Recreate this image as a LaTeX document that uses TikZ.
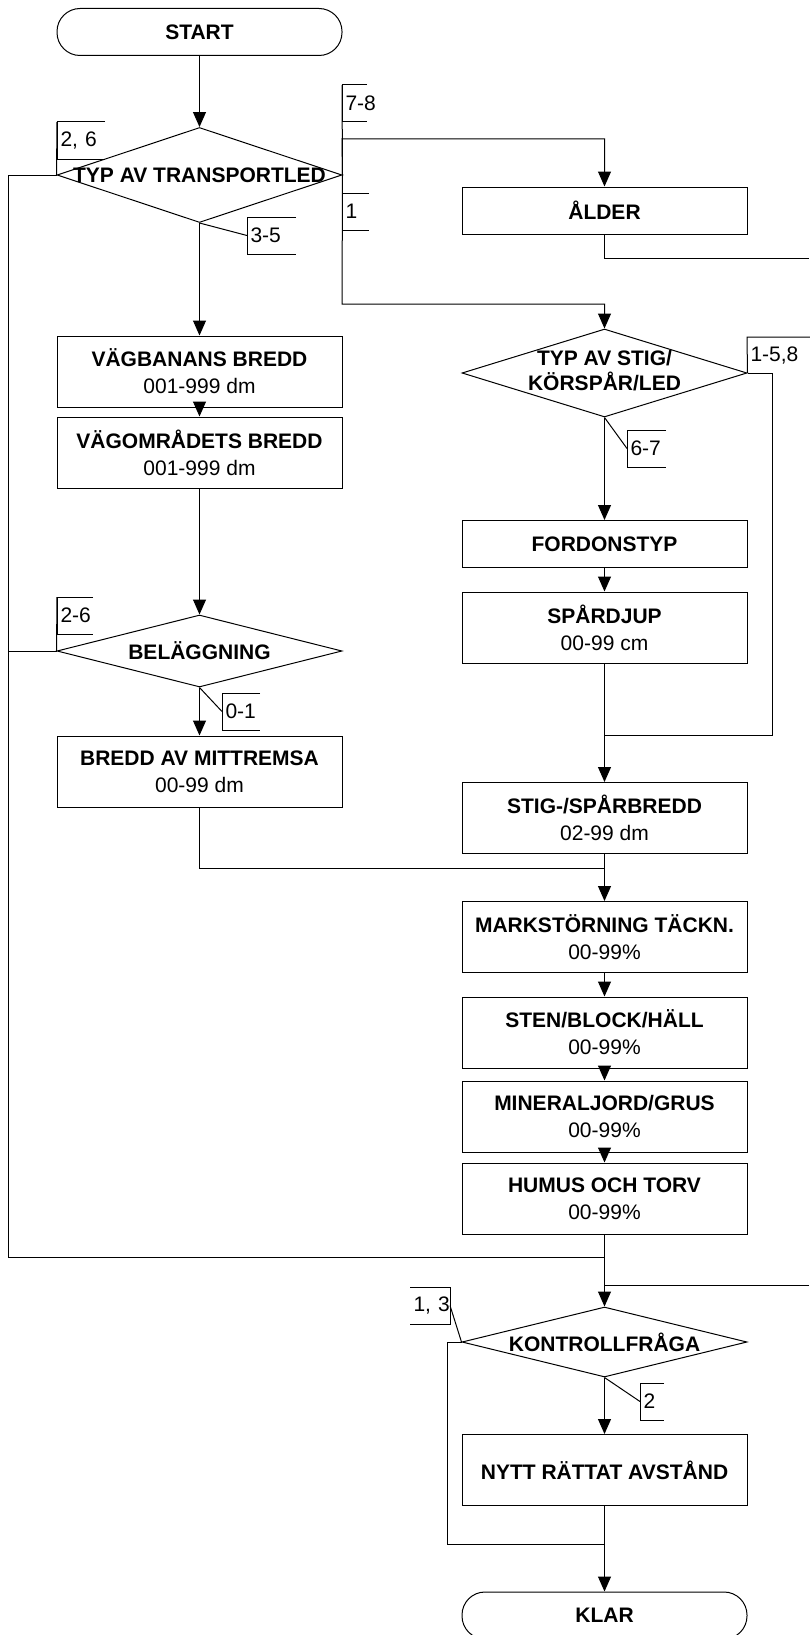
\documentclass[tikz,border=0pt]{standalone}
\usepackage{fontspec}
\setmainfont{Liberation Sans}
\usetikzlibrary{shapes.geometric,arrows.meta,positioning}

% text that takes no width inside a diamond
\newcommand{\nollbred}[1]{\makebox[0pt]{#1}}

\begin{document}
\begin{tikzpicture}[x=1pt, y=-1pt, line width=1pt, >={Triangle[length=15pt,width=13pt]},
    font=\fontsize{21}{27}\selectfont,
    box/.style={draw, rectangle, minimum width=285pt, minimum height=#1, inner sep=0pt, align=center},
    box/.default=71pt,
    beslut/.style={draw, diamond, minimum width=285pt, minimum height=#1, inner sep=0pt},
    term/.style={draw, rectangle, rounded corners=23pt, minimum width=285pt, minimum height=47pt},
    lbl/.style={text width=#1, align=left, inner xsep=3pt, inner ysep=0pt, minimum height=36pt, anchor=north west}]
    \useasboundingbox (0,0) rectangle (809,1635);

    % left column
    \node (start) [term] at (199.5,32) {\textbf{START}};
    \node (typled) [beslut=95pt] at (199.5,175) {\nollbred{\textbf{TYP AV TRANSPORTLED}}};
    \node (vbredd) [box] at (199.5,371.5) {\textbf{VÄGBANANS BREDD}\\001-999 dm};
    \node (vomr) [box] at (199.5,452.5) {\textbf{VÄGOMRÅDETS BREDD}\\001-999 dm};
    \node (belagg) [beslut=72pt] at (199.5,651) {\nollbred{\textbf{BELÄGGNING}}};
    \node (mittremsa) [box] at (199.5,771.5) {\textbf{BREDD AV MITTREMSA}\\00-99 dm};

    % right column
    \node (alder) [box=47pt] at (604.5,210.5) {\textbf{ÅLDER}};
    \node (typstig) [beslut=88pt] at (604.5,373) {\nollbred{\textbf{\begin{tabular}{@{}c@{}}TYP AV STIG/\\[-2pt]KÖRSPÅR/LED\end{tabular}}}};
    \node (fordon) [box=47pt] at (604.5,544) {\textbf{FORDONSTYP}};
    \node (spardjup) [box] at (604.5,627.5) {\textbf{SPÅRDJUP}\\00-99 cm};
    \node (stigbredd) [box] at (604.5,818) {\textbf{STIG-/SPÅRBREDD}\\02-99 dm};
    \node (mark) [box] at (604.5,937) {\textbf{MARKSTÖRNING TÄCKN.}\\00-99\%};
    \node (sten) [box] at (604.5,1032.5) {\textbf{STEN/BLOCK/HÄLL}\\00-99\%};
    \node (mineral) [box] at (604.5,1116.5) {\textbf{MINERALJORD/GRUS}\\00-99\%};
    \node (humus) [box] at (604.5,1198.5) {\textbf{HUMUS OCH TORV}\\00-99\%};
    \node (kontroll) [beslut=70pt] at (604.5,1342) {\nollbred{\textbf{KONTROLLFRÅGA}}};
    \node (nytt) [box] at (604.5,1470) {\textbf{NYTT RÄTTAT AVSTÅND}};
    \node (klar) [term] at (604.5,1615.5) {\textbf{KLAR}};

    % answer codes
    \node (k26) [lbl=41pt] at (57,122) {\mbox{2, 6}};
    \node (k78) [lbl=18pt] at (342,85) {\mbox{7-8}};
    \node (k1) [lbl=20pt] at (342,193) {\mbox{1}};
    \node (k35) [lbl=42pt] at (247,217) {\mbox{3-5}};
    \node (k26b) [lbl=29pt] at (57,597) {\mbox{2-6}};
    \node (k01) [lbl=31pt] at (222,693) {\mbox{0-1}};
    \node (k158) [lbl=56pt] at (747,337) {\mbox{1-5,8}};
    \node (k67) [lbl=32pt] at (627,430) {\mbox{6-7}};
    \node (k13) [lbl=33pt] at (410,1287) {\mbox{1, 3}};
    \node (k2) [lbl=17pt] at (640,1383) {\mbox{2}};
    \foreach \k in {k26,k78,k1,k35,k26b,k01,k67,k2}
        \draw (\k.north east) -- (\k.north west) -- (\k.south west) -- (\k.south east);
    \draw (k13.north west) -- (k13.north east) -- (k13.south east) -- (k13.south west);
    \draw (k158.north east) -- (k158.north west) -- (typstig.east);
    \draw (typled.west) -- (k26.north west);
    \draw (typled.east) -- (k78.north west);
    \draw (typled.south) -- (k35.west);
    \draw (belagg.west) -- (k26b.north west);
    \draw (belagg.south) -- (k01.west);
    \draw (typstig.south) -- (k67.west);
    \draw (kontroll.west) -- (k13.east);
    \draw (kontroll.south) -- (k2.west);

    % junctions and loose ends
    \coordinate (v78) at (342,139);
    \coordinate (v1) at (342,304);
    \coordinate (ut) at (809,258);
    \coordinate (in) at (809,1285);
    \coordinate (m1) at (604.5,868);
    \coordinate (m2) at (604.5,735);
    \coordinate (m3) at (604.5,1257);
    \coordinate (m4) at (604.5,1544);

    % connectors
    \draw[->] (start) -- (typled);
    \draw[->] (typled) -- (vbredd);
    \draw[->] (vbredd) -- (vomr);
    \draw[->] (vomr) -- (belagg);
    \draw[->] (belagg) -- (mittremsa);
    \draw (mittremsa.south) |- (m1);
    \draw[->] (typled.east) -- (v78) -| (alder.north);
    \draw (alder.south) |- (ut);
    \draw[->] (typled.east) -- (v1) -| (typstig.north);
    \draw[->] (typstig) -- (fordon);
    \draw[->] (fordon) -- (spardjup);
    \draw[->] (spardjup) -- (stigbredd);
    \draw (typstig.east) -- ++(25,0) |- (m2);
    \draw[->] (stigbredd) -- (mark);
    \draw[->] (mark) -- (sten);
    \draw[->] (sten) -- (mineral);
    \draw[->] (mineral) -- (humus);
    \draw (typled.west) -- ++(-48,0) |- (m3);
    \draw (belagg.west) -- ++(-48,0);
    \draw[->] (humus) -- (kontroll);
    \draw (in) -- (humus.south |- in);
    \draw[->] (kontroll) -- (nytt);
    \draw[->] (nytt) -- (klar);
    \draw (kontroll.west) -- ++(-14,0) |- (m4);
\end{tikzpicture}
\end{document}
